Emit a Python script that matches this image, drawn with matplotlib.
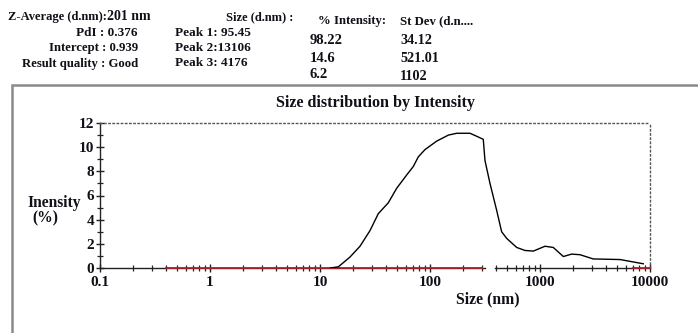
import matplotlib
matplotlib.use("Agg")
import matplotlib.pyplot as plt
from matplotlib.patches import Rectangle
from matplotlib.ticker import LogLocator, FixedLocator, NullFormatter, FixedFormatter

# ---------------- data ----------------
size_nm = [12.4, 14.7, 18.7, 23.1, 28.5, 33.9, 41.8, 49.8, 61.4, 70.5, 78.3, 90.1,
           115, 147, 175, 231, 266, 305, 316, 351, 403, 448, 498, 614, 731, 869,
           1110, 1320, 1630, 1940, 2310, 3050, 5340, 8690]
intensity = [0.0, 0.1, 0.9, 1.8, 3.1, 4.5, 5.4, 6.6, 7.7, 8.4, 9.2, 9.8,
             10.5, 11.0, 11.15, 11.15, 10.9, 10.65, 8.9, 7.0, 4.8, 3.0, 2.45, 1.7, 1.45, 1.4,
             1.8, 1.7, 0.95, 1.15, 1.1, 0.75, 0.7, 0.35]

baseline_segments = [(0.4, 300), (7000, 10000)]
axis_segments = [(0.1, 316), (390, 10000)]

x_ticks = [0.1, 1, 10, 100, 1000, 10000]
x_tick_labels = ["0.1", "1", "10", "100", "1000", "10000"]
y_ticks = [0, 2, 4, 6, 8, 10, 12]
y_tick_labels = ["0", "2", "4", "6", "8", "10", "12"]

header_texts = ["Z-Average (d.nm):", "201 nm", "PdI : 0.376", "Intercept : 0.939",
                "Result quality : Good",
                "Size (d.nm) :", "Peak 1: 95.45", "Peak 2:13106", "Peak 3: 4176",
                "% Intensity:", "98.22", "14.6", "6.2",
                "St Dev (d.n....", "34.12", "521.01", "1102"]

# layout of header texts: (x px, y px, ha, fontsize)
header_layout = [(8, 17, "left", 9.0), (107, 17, "left", 10.0), (138, 33, "right", 9.5),
                 (138, 48, "right", 9.2), (138, 64, "right", 9.2),
                 (293, 17, "right", 9.0), (175, 33, "left", 9.5), (175, 48, "left", 9.5),
                 (175, 63, "left", 9.5),
                 (318, 21, "left", 9.2), (310, 40, "left", 10.5), (310, 58, "left", 10.5),
                 (310, 75, "left", 10.5),
                 (400, 21, "left", 9.2), (400, 40, "left", 10.2), (400, 58, "left", 10.2),
                 (400, 76, "left", 10.2)]

W, H = 698, 333
SERIF = ["Liberation Serif", "DejaVu Serif"]
TXT = "#101018"

fig = plt.figure(figsize=(W / 100, H / 100), dpi=100)
fig.patch.set_facecolor("white")

def px(x, y):
    return x / W, 1 - y / H

# outer gray frame
fig.patches.append(Rectangle((12 / W, -0.2), 2.0, 1.2 - 85 / H,
                             transform=fig.transFigure, fill=False,
                             edgecolor="#8a8a8a", linewidth=1.8))

for s, (x, y, ha, fs) in zip(header_texts, header_layout):
    fx, fy = px(x, y)
    fig.text(fx, fy, s, ha=ha, va="center", fontsize=fs, fontweight="bold",
             family=SERIF, color=TXT)

left, right, top, bottom = 100, 650, 123, 268
ax = fig.add_axes([left / W, 1 - bottom / H, (right - left) / W, (bottom - top) / H])
ax.set_xscale("log")
ax.set_xlim(0.1, 10000)
ax.set_ylim(0, 12)

ax.plot(size_nm, intensity, color="black", linewidth=1.0, zorder=4)
for a, b in baseline_segments:
    ax.plot([a, b], [0, 0], color="#b0202a", linewidth=1.3, zorder=3, clip_on=False)

# bottom axis drawn as broken line
ax.spines["bottom"].set_visible(False)
for a, b in axis_segments:
    ax.plot([a, b], [0, 0], color="#222222", linewidth=1.0, zorder=2,
            transform=ax.get_xaxis_transform(), clip_on=False)
ax.spines["left"].set_color("#222222")
ax.spines["left"].set_linewidth(1.0)
for s in ("top", "right"):
    ax.spines[s].set_linestyle((0, (1, 2.0)))
    ax.spines[s].set_color("#555555")
    ax.spines[s].set_linewidth(1.0)

ax.xaxis.set_major_locator(FixedLocator(x_ticks))
ax.xaxis.set_major_formatter(FixedFormatter(x_tick_labels))
ax.xaxis.set_minor_locator(LogLocator(base=10, subs=range(2, 10)))
ax.xaxis.set_minor_formatter(NullFormatter())
ax.yaxis.set_major_locator(FixedLocator(y_ticks))
ax.yaxis.set_major_formatter(FixedFormatter(y_tick_labels))
ax.yaxis.set_minor_locator(FixedLocator([1, 3, 5, 7, 9, 11]))

ax.tick_params(axis="both", which="major", direction="inout", length=6, width=1,
               color="#222222", labelsize=11, labelcolor=TXT)
ax.tick_params(axis="both", which="minor", direction="inout", length=4, width=0.9,
               color="#222222")
ax.tick_params(axis="y", which="major", pad=1)
ax.tick_params(axis="x", which="major", pad=3)
for lab in ax.get_xticklabels() + ax.get_yticklabels():
    lab.set_fontfamily(SERIF)
    lab.set_fontweight("bold")

fig.text(*px(376, 103), "Size distribution by Intensity", ha="center", va="center",
         fontsize=11.6, fontweight="bold", family=SERIF, color=TXT)
fig.text(*px(488, 299), "Size (nm)", ha="center", va="center",
         fontsize=11.3, fontweight="bold", family=SERIF, color=TXT)
fig.text(*px(27, 203), "Inensity", ha="left", va="center",
         fontsize=11.2, fontweight="bold", family=SERIF, color=TXT)
fig.text(*px(32, 218), "(%)", ha="left", va="center",
         fontsize=11.2, fontweight="bold", family=SERIF, color=TXT)

fig.savefig("out.png", dpi=100, facecolor="white")
